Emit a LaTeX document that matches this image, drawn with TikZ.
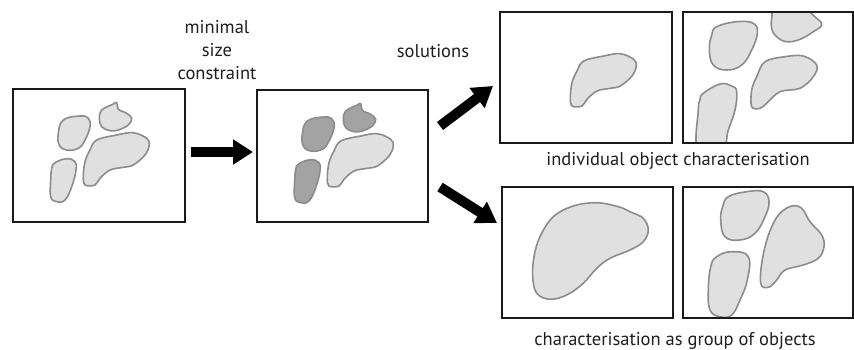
\documentclass[tikz,border=0pt]{standalone}
\usepackage{fontspec}
\setmainfont{PT Sans}
\usetikzlibrary{arrows.meta}
\definecolor{blobline}{HTML}{8C8C8C}
\definecolor{lightfill}{HTML}{E0E0E0}
\definecolor{darkfill}{HTML}{A3A3A3}
\definecolor{boxline}{HTML}{1A1A1A}
\definecolor{textcol}{HTML}{1E1E1E}
\tikzset{
  frame/.style={draw=boxline, line width=2pt, inner sep=0pt, outer sep=0pt},
  blob/.style={draw=blobline, line width=1.6pt, fill=lightfill},
  darkblob/.style={blob, fill=darkfill},
  bigarrow/.style={line width=10pt, -{Triangle[width=24pt,length=20pt]}},
  lbl/.style={text=textcol, font=\fontsize{18.5}{23}\selectfont, inner sep=0pt},
}
\begin{document}
\begin{tikzpicture}[x=1pt,y=-1pt]
\useasboundingbox (0,0) rectangle (854,349);
% ---- box 1 blobs
\draw[blob] plot[smooth cycle, tension=0.7] coordinates {(63.3,120) (80,116) (88.3,118.3) (90,126.7) (85,140) (78.3,148.3) (66.7,150) (59.3,145) (58.3,133.3)};
\draw[blob] plot[smooth cycle, tension=0.6] coordinates {(101.7,110) (113.3,104) (116.7,102.7) (118.3,109.3) (126.7,113.3) (131.7,118.3) (128.3,125) (118.3,130) (110,130.7) (101.7,126.7) (99.3,118.3)};
\draw[blob] plot[smooth cycle, tension=0.7] coordinates {(55,162.7) (66.7,158.7) (75,161.7) (76,170) (71.7,186.7) (65,200) (56.7,201.7) (50.7,196.7) (50.7,180) (51.7,168.3)};
\draw[blob] plot[smooth cycle, tension=0.6] coordinates {(96.7,140) (116.7,135) (133.3,132.7) (146.7,138.3) (149.3,145) (145,155) (133.3,165) (123.3,167.3) (110,170) (100,178.3) (95,185) (85,185) (83.3,176.7) (85,161.7) (90,150)};
% ---- box 2 blobs
\begin{scope}[shift={(244,1)}]
\draw[darkblob] plot[smooth cycle, tension=0.7] coordinates {(63.3,120) (80,116) (88.3,118.3) (90,126.7) (85,140) (78.3,148.3) (66.7,150) (59.3,145) (58.3,133.3)};
\draw[darkblob] plot[smooth cycle, tension=0.6] coordinates {(101.7,110) (113.3,104) (116.7,102.7) (118.3,109.3) (126.7,113.3) (131.7,118.3) (128.3,125) (118.3,130) (110,130.7) (101.7,126.7) (99.3,118.3)};
\draw[darkblob] plot[smooth cycle, tension=0.7] coordinates {(55,162.7) (66.7,158.7) (75,161.7) (76,170) (71.7,186.7) (65,200) (56.7,201.7) (50.7,196.7) (50.7,180) (51.7,168.3)};
\draw[blob] plot[smooth cycle, tension=0.6] coordinates {(96.7,140) (116.7,135) (133.3,132.7) (146.7,138.3) (149.3,145) (145,155) (133.3,165) (123.3,167.3) (110,170) (100,178.3) (95,185) (85,185) (83.3,176.7) (85,161.7) (90,150)};
\end{scope}
% ---- box 3 blob
\begin{scope}[shift={(487,-79)}]
\draw[blob] plot[smooth cycle, tension=0.6] coordinates {(96.7,140) (116.7,135) (133.3,132.7) (146.7,138.3) (149.3,145) (145,155) (133.3,165) (123.3,167.3) (110,170) (100,178.3) (95,185) (85,185) (83.3,176.7) (85,161.7) (90,150)};
\end{scope}
% ---- box 4 blobs
\begin{scope}
\clip (683,12) rectangle (853,143);
\draw[blob] plot[smooth cycle, tension=0.6] coordinates {(765,61.7) (785,56.7) (803.3,56) (816.7,65) (813.3,76.7) (800,88.3) (780,91.7) (766.7,103.3) (760,108.3) (751.7,106.7) (751.7,90) (756.7,76.7)};
\draw[blob] plot[smooth cycle, tension=0.7] coordinates {(716.7,26.7) (736.7,21.7) (753.3,23.3) (757.3,33.3) (751.7,50) (741.7,65) (726.7,70) (713.3,65) (709.3,50) (711.7,35)};
\draw[blob] plot[smooth cycle, tension=0.7] coordinates {(775,8) (800,7) (816.7,18.3) (821.7,25) (813.3,31.7) (800,39.3) (786.7,41.7) (776.7,36.7) (771.7,28.3) (772,16)};
\draw[blob] plot[smooth cycle, tension=0.7] coordinates {(703.3,93.3) (720,84) (731.7,86) (736.7,91.7) (735,110) (728.3,130) (722,150) (698,150) (698.3,110) (700,100)};
\end{scope}
% ---- box 5 blob
\draw[blob] plot[smooth cycle, tension=0.6] coordinates {(553.3,216.7) (573.3,206) (596.7,202.7) (618.3,206.7) (630,211.7) (643.3,218.3) (648.3,230) (643.3,241.7) (630,250) (610,258.3) (596.7,268.3) (583.3,283.3) (566.7,295) (550,299.3) (536.7,293.3) (532.7,276.7) (534,256.7) (540,236.7)};
% ---- box 6 blobs
\draw[blob] plot[smooth cycle, tension=0.7] coordinates {(728.3,196.7) (746.7,191.7) (763.3,191.7) (769,201.7) (765,216.7) (755,233.3) (740,240) (725,236.7) (720.7,220) (722.7,206.7)};
\draw[blob] plot[smooth cycle, tension=0.6] coordinates {(780,213.3) (791.7,206) (801.7,208.3) (810,221.7) (821.7,235) (824,246.7) (818.3,258.3) (803.3,265) (785,270) (776.7,280) (770,286.7) (761.7,286) (760.7,271.7) (765,246.7) (771.7,226.7)};
\draw[blob] plot[smooth cycle, tension=0.7] coordinates {(716.7,256.7) (731.7,251.7) (748.3,256.7) (747.3,280) (740,300) (731.7,315) (720,316.7) (710,310) (708.3,290) (710.7,266.7)};
% ---- frames
\node[frame, minimum width=172pt, minimum height=133pt] (b1) at (99,155.5) {};
\node[frame, minimum width=171pt, minimum height=132pt] (b2) at (342.5,156) {};
\node[frame, minimum width=172pt, minimum height=131pt] (b3) at (586,77.5) {};
\node[frame, minimum width=170pt, minimum height=131pt] (b4) at (768,77.5) {};
\node[frame, minimum width=171pt, minimum height=131pt] (b5) at (587.5,252.5) {};
\node[frame, minimum width=170pt, minimum height=131pt] (b6) at (768,252.5) {};
% ---- arrows
\coordinate (a1s) at (191,152);
\coordinate (a1e) at (253,152);
\coordinate (a2s) at (440,126);
\coordinate (a2e) at (493,86);
\coordinate (a3s) at (440,187);
\coordinate (a3e) at (497,223);
\draw[bigarrow] (a1s) -- (a1e);
\draw[bigarrow] (a2s) -- (a2e);
\draw[bigarrow] (a3s) -- (a3e);
% ---- labels
\node[lbl, align=center] (cons) at (217,50) {minimal\\size\\constraint};
\node[lbl, anchor=base] (sol) at (433,57.3) {solutions};
\node[lbl, anchor=base] (ind) at (678,165) {individual object characterisation};
\node[lbl, anchor=base] (grp) at (675,345) {characterisation as group of objects};
\end{tikzpicture}
\end{document}
